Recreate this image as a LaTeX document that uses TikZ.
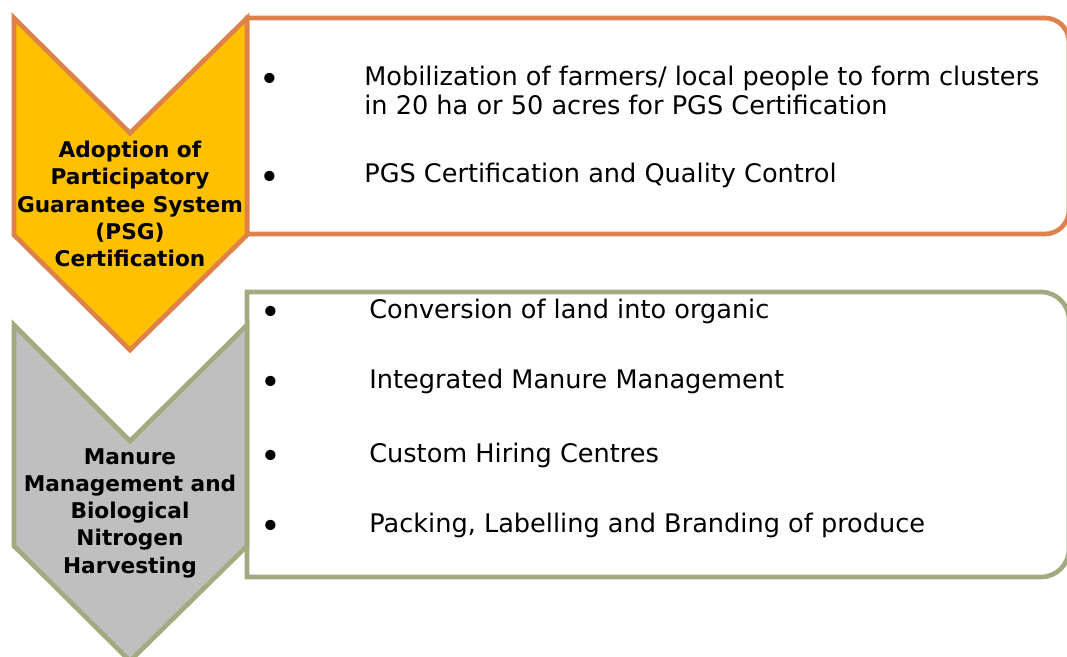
\documentclass[tikz,border=0pt]{standalone}
\usepackage{fontspec}
\setmainfont{DejaVu Sans}
\usepackage{tikz}
\usetikzlibrary{positioning}

\definecolor{edgeorange}{RGB}{222,130,75}
\definecolor{edgeolive}{RGB}{164,170,128}
\definecolor{chevyellow}{RGB}{255,192,0}
\definecolor{chevgrey}{RGB}{191,191,191}

\begin{document}
\begin{tikzpicture}[
    x=0.025cm, y=-0.025cm,
    line width=3.3pt,
    pgschev/.style={draw=edgeorange, fill=chevyellow},
    manchev/.style={draw=edgeolive, fill=chevgrey},
    pgsbox/.style={draw=edgeorange, fill=white},
    manbox/.style={draw=edgeolive, fill=white},
    head/.style={font=\bfseries\fontsize{15.4}{19.4}\selectfont, align=center, inner sep=0pt},
    item/.style={font=\fontsize{18.2}{20.6}\selectfont, align=left, anchor=base west, inner sep=0pt},
    dot/.style={font=\fontsize{25}{25}\selectfont, anchor=base, inner sep=0pt, yshift=-0.17cm}
]
    \useasboundingbox (0,0) rectangle (1067,657);

    % Boxes (square on the left, round on the right)
    \draw [pgsbox] (247,234) -- (247,18) [rounded corners=0.6cm] -- (1069,18) -- (1069,234) [sharp corners] -- cycle;
    \draw [manbox] (247,577) -- (247,292) [rounded corners=0.7cm] -- (1069,292) -- (1069,577) [sharp corners] -- cycle;

    % Chevrons
    \draw [pgschev] (14,18) -- (130,133) -- (247,18) -- (247,235) -- (130,350) -- (14,235) -- cycle;
    \draw [manchev] (14,325) -- (130,441) -- (247,325) -- (247,546) -- (130,661) -- (14,546) -- cycle;

    % 1. PGS certification
    \node [head] (PgsHead) at (130,204) {Adoption of\\Participatory\\Guarantee System\\(PSG)\\Certification};
    \node [dot] (PgsDotA) at (270,85) {\textbullet};
    % base anchor sits on the last line
    \node [item] (PgsItemA) at (362,114) {Mobilization of farmers/ local people to form clusters\\in 20 ha or 50 acres for PGS Certification};
    \node [dot] (PgsDotB) at (270,183) {\textbullet};
    \node [item] (PgsItemB) at (362,183) {PGS Certification and Quality Control};

    % 2. Manure management
    \node [head] (ManHead) at (130,513) {Manure\\Management and\\Biological\\Nitrogen\\Harvesting};
    \node [dot] (ManDotA) at (271,318) {\textbullet};
    \node [item] (ManItemA) at (367,318) {Conversion of land into organic};
    \node [dot] (ManDotB) at (271,388) {\textbullet};
    \node [item] (ManItemB) at (367,388) {Integrated Manure Management};
    \node [dot] (ManDotC) at (271,462) {\textbullet};
    \node [item] (ManItemC) at (367,462) {Custom Hiring Centres};
    \node [dot] (ManDotD) at (271,532) {\textbullet};
    \node [item] (ManItemD) at (367,532) {Packing, Labelling and Branding of produce};

\end{tikzpicture}
\end{document}
